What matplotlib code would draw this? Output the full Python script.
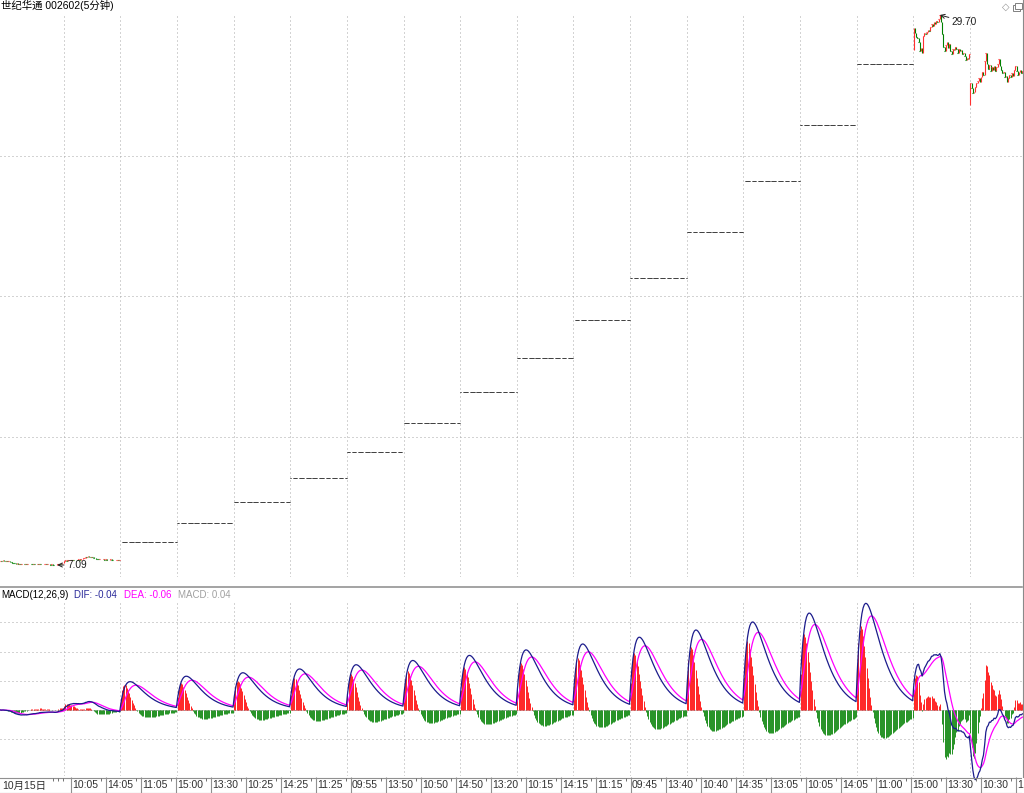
import numpy as np
import pandas as pd
import matplotlib
matplotlib.use("Agg")
import matplotlib.pyplot as plt
from matplotlib.lines import Line2D
from matplotlib.patches import Rectangle

plt.rcParams['font.family'] = ['Liberation Sans', 'Noto Sans CJK SC', 'DejaVu Sans']

title = "世纪华通 002602(5分钟)"
bars_per_day = 48

# 5分钟收盘价
pre_close = [7.27, 7.26, 7.28, 7.26, 7.25, 7.26, 7.24, 7.25, 7.23, 7.21,
             7.19, 7.17, 7.16, 7.15, 7.16, 7.14, 7.15, 7.13, 7.14, 7.15,
             7.13, 7.14, 7.12, 7.14, 7.13, 7.15, 7.14, 7.13, 7.14, 7.12,
             7.13, 7.14, 7.13, 7.15, 7.14, 7.13, 7.12, 7.13, 7.14, 7.12,
             7.13, 7.12, 7.11, 7.12, 7.11, 7.10, 7.09, 7.11, 7.12, 7.14,
             7.15, 7.14, 7.16, 7.17]
day_a_close = [7.27, 7.28, 7.27, 7.29, 7.28, 7.30, 7.29, 7.31, 7.30, 7.29,
               7.31, 7.30, 7.32, 7.31, 7.33, 7.34, 7.36, 7.38, 7.42, 7.40,
               7.44, 7.43, 7.41, 7.42, 7.40, 7.38, 7.37, 7.35, 7.34, 7.33,
               7.35, 7.34, 7.32, 7.33, 7.31, 7.32, 7.30, 7.31, 7.30, 7.32,
               7.31, 7.30, 7.31, 7.29, 7.30, 7.30, 7.28, 7.29]
# 一字涨停, 每天只有一个价格
limit_prices = [8.02, 8.82, 9.70, 10.67, 11.74, 12.91, 14.20, 15.62, 17.18,
                18.90, 20.79, 22.87, 25.16, 27.68]
day15_open = 28.26
day15_close = [29.15, 28.94, 28.80, 28.74, 28.60, 28.20, 28.35, 28.15, 28.85, 28.95,
               28.90, 29.00, 29.10, 29.05, 29.20, 29.35, 29.25, 29.40, 29.35, 29.45,
               29.40, 29.55, 29.70, 29.40, 28.90, 28.40, 28.20, 28.45, 28.60, 28.35,
               28.50, 28.20, 28.10, 28.30, 28.25, 28.40, 28.30, 28.15, 28.30, 28.20,
               28.25, 28.10, 28.15, 28.00, 27.85, 27.95, 27.90, 28.10]
day16_open = 26.00
day16_close = [26.90, 26.70, 26.50, 26.55, 26.75, 26.90, 27.00, 27.10, 26.95, 27.15,
               27.35, 27.25, 27.80, 28.15, 27.70, 27.50, 27.65, 27.40, 27.55, 27.45,
               27.60, 27.40, 27.55, 27.70, 27.90, 27.60, 27.45, 27.30, 27.35, 27.15,
               27.20, 26.95, 27.10, 27.25, 27.15, 27.30, 27.20, 27.45, 27.60, 27.40,
               27.25, 27.35, 27.45, 27.30, 27.40]

time_labels = ["10月15日", "10:05", "14:05", "11:05", "15:00", "13:30", "10:25", "14:25",
               "11:25", "09:55", "13:50", "10:50", "14:50", "13:20", "10:15", "14:15",
               "11:15", "09:45", "13:40", "10:40", "14:35", "13:05", "10:05", "14:05",
               "11:00", "15:00", "13:30", "10:30", "1"]

macd_grid = [0.6, 0.4, 0.2, -0.2]

close = np.concatenate([pre_close, day_a_close,
                        np.repeat(limit_prices, bars_per_day),
                        day15_close, day16_close])
n = len(close)
x = np.arange(n)
opens = np.r_[close[0], close[:-1]]
flat0 = len(pre_close) + len(day_a_close)
flat1 = flat0 + len(limit_prices) * bars_per_day
opens[flat0:flat1] = close[flat0:flat1]
opens[flat1] = day15_open
opens[flat1 + len(day15_close)] = day16_open

s = pd.Series(close)
dif = s.ewm(span=12, adjust=False).mean() - s.ewm(span=26, adjust=False).mean()
dea = dif.ewm(span=9, adjust=False).mean()
macd = 2 * (dif - dea)

day_starts = [len(pre_close) + k * bars_per_day for k in range(17)]

W, H = 1024, 793
fig = plt.figure(figsize=(W / 100, H / 100), dpi=100)
fig.patch.set_facecolor('white')


def fx(px):
    return px / W


def fy(py):
    return 1 - py / H


grid_kw = dict(color='#a8a8a8', lw=0.72, linestyle=(0, (1, 3)))

# ---- 主图 ----
ax = fig.add_axes([0, fy(577), fx(1023), (577 - 15) / H])
ax.set_xlim(-0.5, n - 0.5)
ax.set_ylim(6.597, 29.70)
ax.axis('off')
lo, hi = ax.get_ylim()
for v in np.linspace(lo, hi, 5)[1:-1]:
    ax.axhline(v, **grid_kw)
for d in day_starts:
    ax.axvline(d - 0.5, **grid_kw)

up = close >= opens
candle = np.ones(n, bool)
candle[flat0:flat1] = False
cols = np.where(up, '#ff3030', '#008000')
ci = x[candle]
ax.vlines(ci, np.minimum(opens, close)[candle], np.maximum(opens, close)[candle],
          colors=cols[candle], lw=0.8)
ax.hlines(close[candle], ci - 0.3, ci + 0.3, colors=cols[candle], lw=0.8)
fi = x[~candle]
ax.hlines(close[~candle], fi - 0.36, fi + 0.36, colors='black', lw=0.7)

imax = int(np.argmax(close))
imin = int(np.argmin(close))
ax.annotate(f"{close[imax]:.2f}", xy=(imax, close[imax]), xytext=(imax + 10, close[imax] - 0.27),
            fontsize=7.3, va='center', color='#202020', annotation_clip=False,
            arrowprops=dict(arrowstyle='->', color='#202020', lw=0.7, shrinkA=0, shrinkB=0))
ax.annotate(f"{close[imin]:.2f}", xy=(imin + 2, close[imin]), xytext=(imin + 11, close[imin]),
            fontsize=7.3, va='center', color='#202020',
            arrowprops=dict(arrowstyle='->', color='#202020', lw=0.7, shrinkA=1, shrinkB=0))

fig.text(fx(1), fy(5.5), title, fontsize=7.5, va='center', ha='left', color='black')
fig.text(fx(1006), fy(6.5), "◇", fontsize=7, va='center', ha='center', color='#909090',
         family='DejaVu Sans')
fig.add_artist(Rectangle((fx(1013), fy(11)), fx(7), 6 / H, fill=False, ec='#808080', lw=0.7))
fig.add_artist(Rectangle((fx(1015), fy(9)), fx(7), 6 / H, fill=True, fc='white', ec='#808080', lw=0.7))

# ---- MACD ----
ax2 = fig.add_axes([0, fy(776), fx(1023), (776 - 603) / H])
ax2.set_xlim(-0.5, n - 0.5)
ax2.set_ylim(-0.452, 0.733)
ax2.axis('off')
for v in macd_grid:
    ax2.axhline(v, **grid_kw)
for d in day_starts:
    ax2.axvline(d - 0.5, **grid_kw)
ax2.axhline(0, color='#a0a0a0', lw=0.72, linestyle=(0, (2, 1)))
ax2.vlines(x, 0, macd, colors=np.where(macd >= 0, '#ff0000', '#008000'), lw=0.6)
ax2.plot(x, dea, color='#ff00ff', lw=0.9, clip_on=False)
ax2.plot(x, dif, color='#1c1c8c', lw=0.9, clip_on=False)

ty = fy(595)
fig.text(fx(1), ty, "MACD(12,26,9)", fontsize=7, va='center', color='black')
fig.text(fx(74), ty, "DIF: -0.04", fontsize=7, va='center', color='#2a2a9a')
fig.text(fx(124), ty, "DEA: -0.06", fontsize=7, va='center', color='#ff00ff')
fig.text(fx(178), ty, "MACD: 0.04", fontsize=7, va='center', color='#a0a0a0')

# 分隔线与边框
fig.add_artist(Line2D([0, fx(1022)], [fy(587), fy(587)], color='#8a8a8a', lw=1.1))
fig.add_artist(Line2D([fx(1022.5), fx(1022.5)], [fy(0), fy(777)], color='#8a8a8a', lw=0.8))

# ---- 时间轴 ----
ax3 = fig.add_axes([0, 0, fx(1022), 16 / H])
ax3.set_xlim(0, 1022)
ax3.set_ylim(793, 777)
ax3.axis('off')
ax3.axhline(777.5, color='#909090', lw=0.8)
ax3.axhline(792.5, color='#909090', lw=0.8)
lefts = [0] + [70 + 35 * k for k in range(len(time_labels) - 1)]
for lx, lab in zip(lefts, time_labels):
    if lx > 0:
        ax3.vlines(lx + 0.5, 777, 793, color='#909090', lw=0.8)
        if lx + 31 < 1020:
            ax3.vlines(lx + 31, 778, 781, color='#707070', lw=0.7)
    ax3.text(lx + 2, 785.5, lab, fontsize=7.5, va='center', ha='left', color='#303030')
ax3.vlines([53, 58, 63], 778, 781, color='#707070', lw=0.7)

fig.savefig("out.png", dpi=100, facecolor='white')
